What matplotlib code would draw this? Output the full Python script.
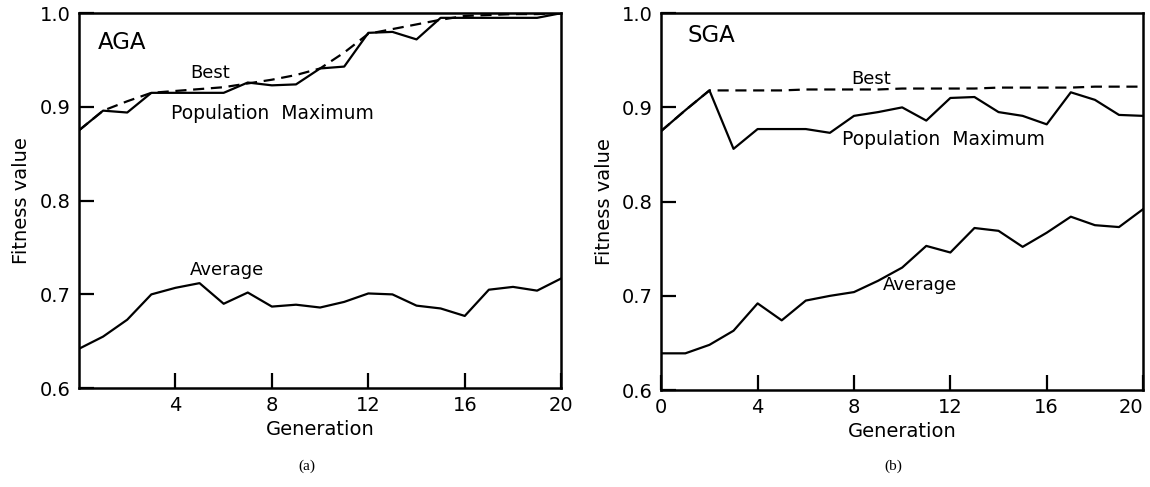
import matplotlib
matplotlib.use("Agg")
import matplotlib.pyplot as plt

generations = list(range(21))

# (a) AGA
aga_pop_max = [0.875, 0.896, 0.894, 0.915, 0.915, 0.915, 0.915, 0.926, 0.923, 0.924, 0.941,
               0.943, 0.979, 0.980, 0.972, 0.995, 0.995, 0.995, 0.995, 0.995, 1.000]
aga_best = [0.875, 0.896, 0.906, 0.915, 0.917, 0.919, 0.921, 0.925, 0.929, 0.934, 0.941,
            0.958, 0.978, 0.983, 0.988, 0.993, 0.997, 0.998, 0.999, 0.999, 1.000]
aga_average = [0.642, 0.655, 0.673, 0.700, 0.707, 0.712, 0.690, 0.702, 0.687, 0.689, 0.686,
               0.692, 0.701, 0.700, 0.688, 0.685, 0.677, 0.705, 0.708, 0.704, 0.717]

# (b) SGA
sga_pop_max = [0.875, 0.897, 0.918, 0.856, 0.877, 0.877, 0.877, 0.873, 0.891, 0.895, 0.900,
               0.886, 0.910, 0.911, 0.895, 0.891, 0.882, 0.916, 0.908, 0.892, 0.891]
sga_best = [0.875, 0.897, 0.918, 0.918, 0.918, 0.918, 0.919, 0.919, 0.919, 0.919, 0.920,
            0.920, 0.920, 0.920, 0.921, 0.921, 0.921, 0.921, 0.922, 0.922, 0.922]
sga_average = [0.639, 0.639, 0.648, 0.663, 0.692, 0.674, 0.695, 0.700, 0.704, 0.716, 0.730,
               0.753, 0.746, 0.772, 0.769, 0.752, 0.767, 0.784, 0.775, 0.773, 0.792]

yticks = [0.6, 0.7, 0.8, 0.9, 1.0]
ytick_labels = ["0.6", "0.7", "0.8", "0.9", "1.0"]

plt.rcParams['font.family'] = 'DejaVu Sans'
fig = plt.figure(figsize=(11.5, 4.87), dpi=100)
ax1 = fig.add_axes([0.0687, 0.203, 0.4193, 0.770])
ax2 = fig.add_axes([0.575, 0.199, 0.419, 0.774])


def style(ax, xticks):
    ax.set_xlim(0, 20)
    ax.set_ylim(0.6, 1.0)
    ax.set_xticks(xticks)
    ax.set_xticklabels([str(t) for t in xticks])
    ax.set_yticks(yticks)
    ax.set_yticklabels(ytick_labels)
    ax.tick_params(direction='in', length=11, width=1.6, labelsize=14, pad=6)
    for s in ax.spines.values():
        s.set_linewidth(1.8)
    ax.set_xlabel("Generation", fontsize=14, labelpad=3)
    ax.set_ylabel("Fitness value", fontsize=14, labelpad=6)


ax1.plot(generations, aga_pop_max, color='black', lw=1.6)
ax1.plot(generations, aga_best, color='black', lw=1.6, ls=(0, (5, 3)))
ax1.plot(generations, aga_average, color='black', lw=1.6)
style(ax1, [4, 8, 12, 16, 20])
ax1.text(0.8, 0.969, "AGA", fontsize=16.5, va='center')
ax1.text(4.6, 0.936, "Best", fontsize=13, va='center')
ax1.text(3.8, 0.893, "Population  Maximum", fontsize=13.5, va='center')
ax1.text(4.6, 0.726, "Average", fontsize=13, va='center')

ax2.plot(generations, sga_pop_max, color='black', lw=1.6)
ax2.plot(generations, sga_best, color='black', lw=1.6, ls=(0, (5, 3)))
ax2.plot(generations, sga_average, color='black', lw=1.6)
style(ax2, [0, 4, 8, 12, 16, 20])
ax2.get_xticklabels()[-1].set_horizontalalignment('right')
ax2.text(1.07, 0.976, "SGA", fontsize=16.5, va='center')
ax2.text(7.9, 0.930, "Best", fontsize=13, va='center')
ax2.text(7.5, 0.866, "Population  Maximum", fontsize=13.5, va='center')
ax2.text(9.2, 0.711, "Average", fontsize=13, va='center')

fig.text(0.267, 0.035, "(a)", fontsize=11, family='Liberation Serif', ha='center')
fig.text(0.777, 0.035, "(b)", fontsize=11, family='Liberation Serif', ha='center')

fig.savefig("out.png", dpi=100)
